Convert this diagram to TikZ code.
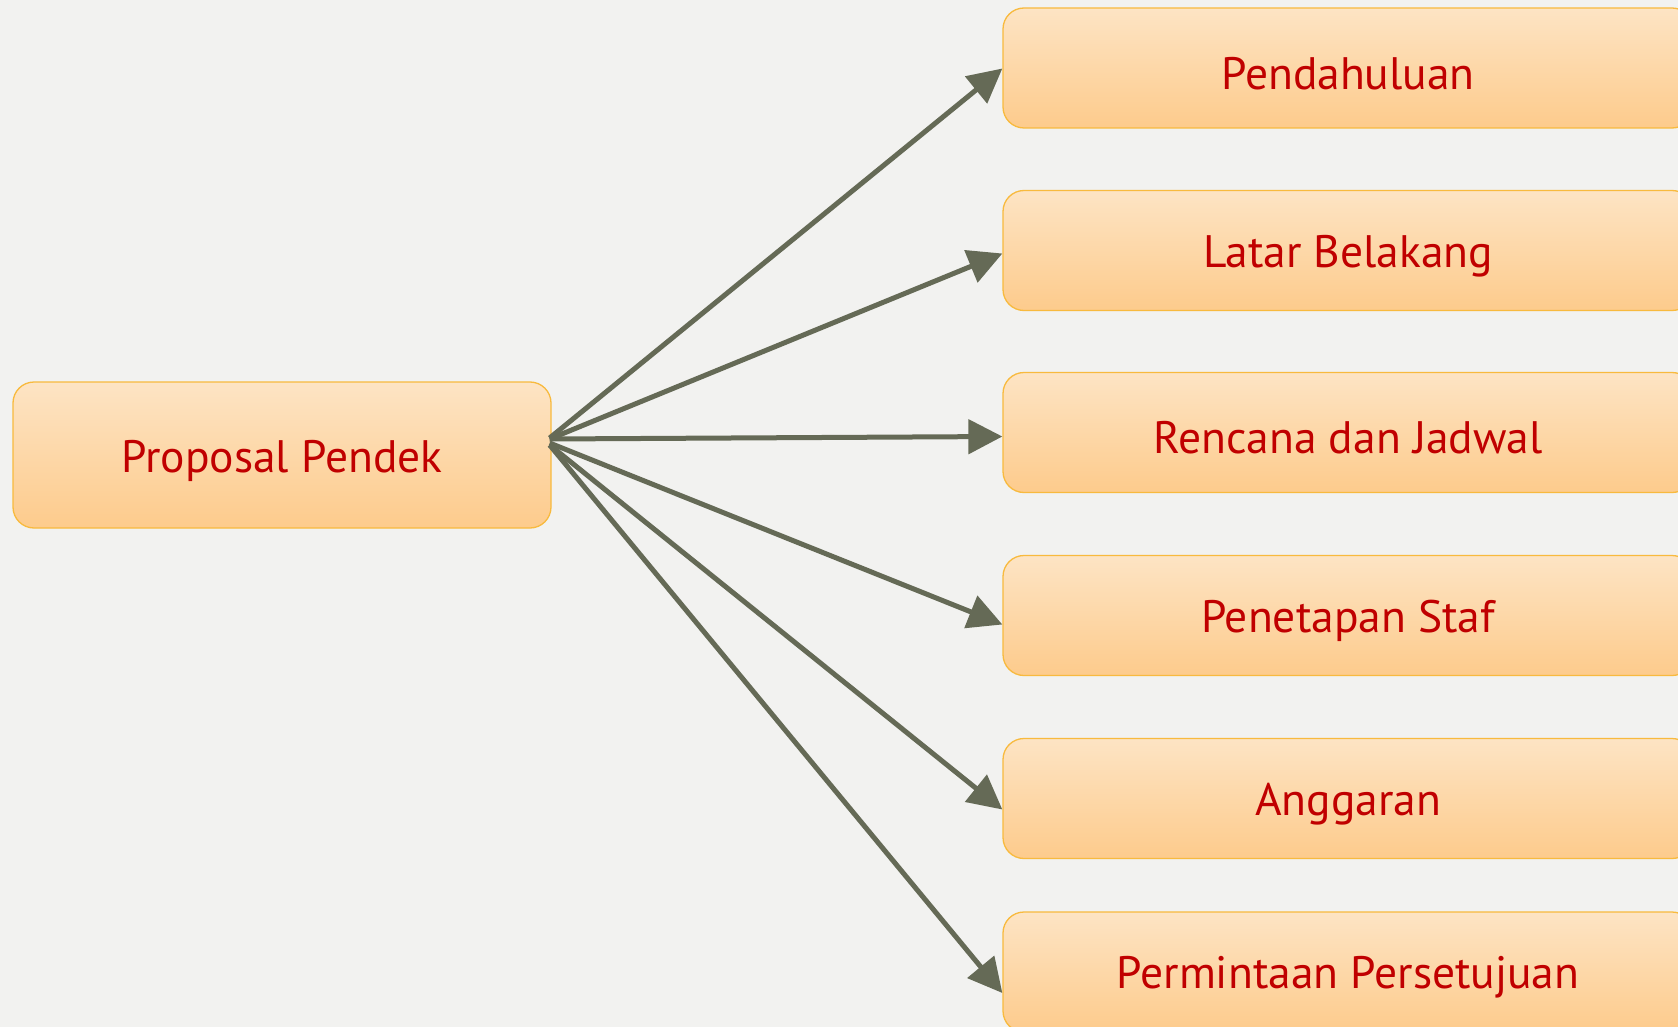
\documentclass[tikz,border=0pt]{standalone}
\usepackage{fontspec}
\setmainfont{PT Sans}
\usetikzlibrary{arrows.meta,calc}
\definecolor{bgc}{HTML}{F2F2F0}
\definecolor{boxtop}{HTML}{FDE4C4}
\definecolor{boxbot}{HTML}{FDCB8C}
\definecolor{boxline}{HTML}{F8BA3E}
\definecolor{txt}{HTML}{C00000}
\definecolor{arr}{HTML}{656A56}
% move a label down while keeping its measured height and depth
\newcommand{\lowered}[1]{\raisebox{-5.5pt}[\height][\depth]{#1}}
\tikzset{
  topic/.style={draw=boxline, line width=1.3pt, rounded corners=21pt,
    top color=boxtop, bottom color=boxbot, text=txt,
    font=\fontsize{45.5}{50}\selectfont, inner sep=0pt},
  leaf/.style={topic, minimum width=690pt, minimum height=120pt},
  root/.style={topic, minimum width=538pt, minimum height=146pt},
  link/.style={draw=arr, line width=5pt, -{Triangle[length=34pt,width=34pt]}}
}
\begin{document}
\begin{tikzpicture}[x=1pt,y=-1pt]
  \fill[bgc] (0,0) rectangle (1678,1027);
  \useasboundingbox (0,0) rectangle (1678,1027);
  \clip (0,0) rectangle (1678,1027);

  \node[root] (p) at (282,455) {\lowered{Proposal Pendek}};

  \node[leaf] (b1) at (1348,68) {\lowered{Pendahuluan}};
  \node[leaf] (b2) at (1348,250.5) {\lowered{Latar Belakang}};
  \node[leaf] (b3) at (1348,432.5) {\lowered{Rencana dan Jadwal}};
  \node[leaf] (b4) at (1348,615.5) {\lowered{Penetapan Staf}};
  \node[leaf] (b5) at (1348,798.5) {\lowered{Anggaran}};
  \node[leaf] (b6) at (1348,972) {\lowered{Permintaan Persetujuan}};

  % fan of start points on the right side of the root box
  \coordinate (s1) at ($(p.east)+(-2,-17)$);
  \coordinate (s2) at ($(p.east)+(-2,-16)$);
  \coordinate (s3) at ($(p.east)+(-2,-16)$);
  \coordinate (s4) at ($(p.east)+(-2,-12)$);
  \coordinate (s5) at ($(p.east)+(-2,-10)$);
  \coordinate (s6) at ($(p.east)+(-2,-10)$);

  \draw[link] (s1) -- ($(b1.west)+(0,0.5)$);
  \draw[link] (s2) -- ($(b2.west)+(0,3)$);
  \draw[link] (s3) -- ($(b3.west)+(0,4)$);
  \draw[link] (s4) -- ($(b4.west)+(0,9)$);
  \draw[link] (s5) -- ($(b5.west)+(0,11)$);
  \draw[link] (s6) -- ($(b6.west)+(0,21)$);
\end{tikzpicture}
\end{document}
